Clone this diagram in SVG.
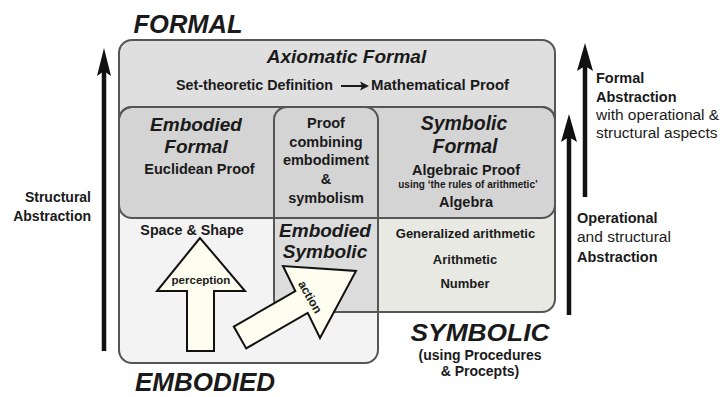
<svg xmlns="http://www.w3.org/2000/svg" width="726" height="397" viewBox="0 0 726 397">
<style>
text{font-family:"Liberation Sans",Arial,sans-serif;fill:#1a1a1a;font-weight:bold}
.bi{font-style:italic}
.n{font-weight:normal}
.m{text-anchor:middle}
.e{text-anchor:end}
.box{stroke:#555;stroke-width:2;fill:none}
.fat{fill:#fdfdf0;stroke:#111;stroke-width:2;stroke-linejoin:miter}
.shaft{stroke:#111;stroke-width:4.5;fill:none}
.head{fill:#111}
</style>
<rect width="726" height="397" fill="#fff"/>
<g id="axiomatic-formal">
<rect x="119" y="40" width="436" height="180" rx="13" fill="#dfdfdf" class="box" style="fill:#dfdfdf"/>
<text class="bi m" x="346.5" y="63" font-size="19">Axiomatic Formal</text>
<text x="176" y="90" font-size="14" textLength="157" lengthAdjust="spacingAndGlyphs">Set-theoretic Definition</text>
<path d="M341 86 H362" stroke="#1a1a1a" stroke-width="2"/>
<path d="M369 86 L360 81.5 L362 86 L360 90.5 Z" fill="#1a1a1a"/>
<text x="371" y="90" font-size="14" textLength="138" lengthAdjust="spacingAndGlyphs">Mathematical Proof</text>
</g>
<g id="embodied-world">
<rect x="119" y="107" width="259" height="256" rx="13" fill="#f3f3f3"/>
</g>
<g id="symbolic-world">
<rect x="274" y="107" width="281" height="205" rx="13" fill="#e9e9e4"/>
</g>
<g id="embodied-symbolic">
<path d="M274 218 H378 V312 H287 Q274 312 274 299 Z" fill="#dcdcdc"/>
</g>
<g id="formal-band">
<rect x="119" y="107" width="436" height="111" rx="13" fill="#d4d4d4"/>
</g>
<g id="outlines">
<rect x="119" y="107" width="436" height="111" rx="13" class="box"/>
<rect x="119" y="107" width="259" height="256" rx="13" class="box"/>
<rect x="274" y="107" width="281" height="205" rx="13" class="box"/>
</g>
<g id="embodied-formal">
<text class="bi m" x="196" y="131" font-size="19">Embodied</text>
<text class="bi m" x="196" y="153" font-size="19">Formal</text>
<text class="m" x="199.5" y="174" font-size="14.5">Euclidean Proof</text>
</g>
<g id="proof-combining">
<text class="m" x="326" y="128" font-size="14.5">Proof</text>
<text class="m" x="326" y="146.5" font-size="14.5">combining</text>
<text class="m" x="326" y="165" font-size="14.5">embodiment</text>
<text class="m" x="326" y="184" font-size="14.5">&amp;</text>
<text class="m" x="326" y="203" font-size="14.5">symbolism</text>
</g>
<g id="symbolic-formal">
<text class="bi m" x="464" y="130" font-size="19.5">Symbolic</text>
<text class="bi m" x="465" y="153" font-size="19.5">Formal</text>
<text class="m" x="466" y="175" font-size="14.5">Algebraic Proof</text>
<text class="m" x="468" y="188" font-size="10">using ‘the rules of arithmetic’</text>
<text class="m" x="466" y="207" font-size="14.5">Algebra</text>
</g>
<g id="embodied">
<text class="m" x="192" y="235" font-size="14.3">Space &amp; Shape</text>
<text class="bi m" x="205" y="391" font-size="26">EMBODIED</text>
</g>
<g id="embodied-symbolic-label">
<text class="bi m" x="325" y="237" font-size="19">Embodied</text>
<text class="bi m" x="325" y="258" font-size="19">Symbolic</text>
</g>
<g id="symbolic">
<text class="m" x="465.5" y="238" font-size="13">Generalized arithmetic</text>
<text class="m" x="465" y="264" font-size="13">Arithmetic</text>
<text class="m" x="465" y="288" font-size="13">Number</text>
<text class="bi m" x="480" y="341" font-size="24.5" textLength="139" lengthAdjust="spacingAndGlyphs">SYMBOLIC</text>
<text class="m" x="480" y="360" font-size="14">(using Procedures</text>
<text class="m" x="480" y="376" font-size="14">&amp; Procepts)</text>
</g>
<g id="formal-title">
<text class="bi m" x="188" y="33" font-size="25.5">FORMAL</text>
</g>
<g id="connectors">
<polygon class="fat" points="200,238 157,291 187,291 187,351 214,351 214,291 245,291"/>
<polygon class="fat" points="233.8,326.6 295.3,291.1 283,266 356,271 320,338 307.7,312.9 246.2,348.4"/>
<path class="shaft" d="M104 70 V351"/>
<polygon class="head" points="104,48 97,76 104,71 111,76"/>
<path class="shaft" d="M585 65 V197"/>
<polygon class="head" points="585,43 577,71 585,66 593,71"/>
<path class="shaft" d="M569 136 V315"/>
<polygon class="head" points="569,114 561,142 569,137 577,142"/>
</g>
<g id="arrow-labels">
<text class="m" x="201" y="284" font-size="11.5">perception</text>
<text class="m" font-size="12" transform="translate(310,297) rotate(60)" y="4">action</text>
</g>
<g id="side-labels">
<text class="e" x="91" y="202" font-size="14">Structural</text>
<text class="e" x="91" y="221" font-size="14">Abstraction</text>
<text x="596" y="83" font-size="14.5">Formal</text>
<text x="596" y="102" font-size="14.5">Abstraction</text>
<text class="n" x="596" y="120" font-size="15.5">with operational &amp;</text>
<text class="n" x="596" y="138" font-size="15.5">structural aspects</text>
<text x="577" y="223" font-size="14.5">Operational</text>
<text class="n" x="577" y="242" font-size="15.5">and structural</text>
<text x="577" y="262" font-size="14.5">Abstraction</text>
</g>
</svg>
